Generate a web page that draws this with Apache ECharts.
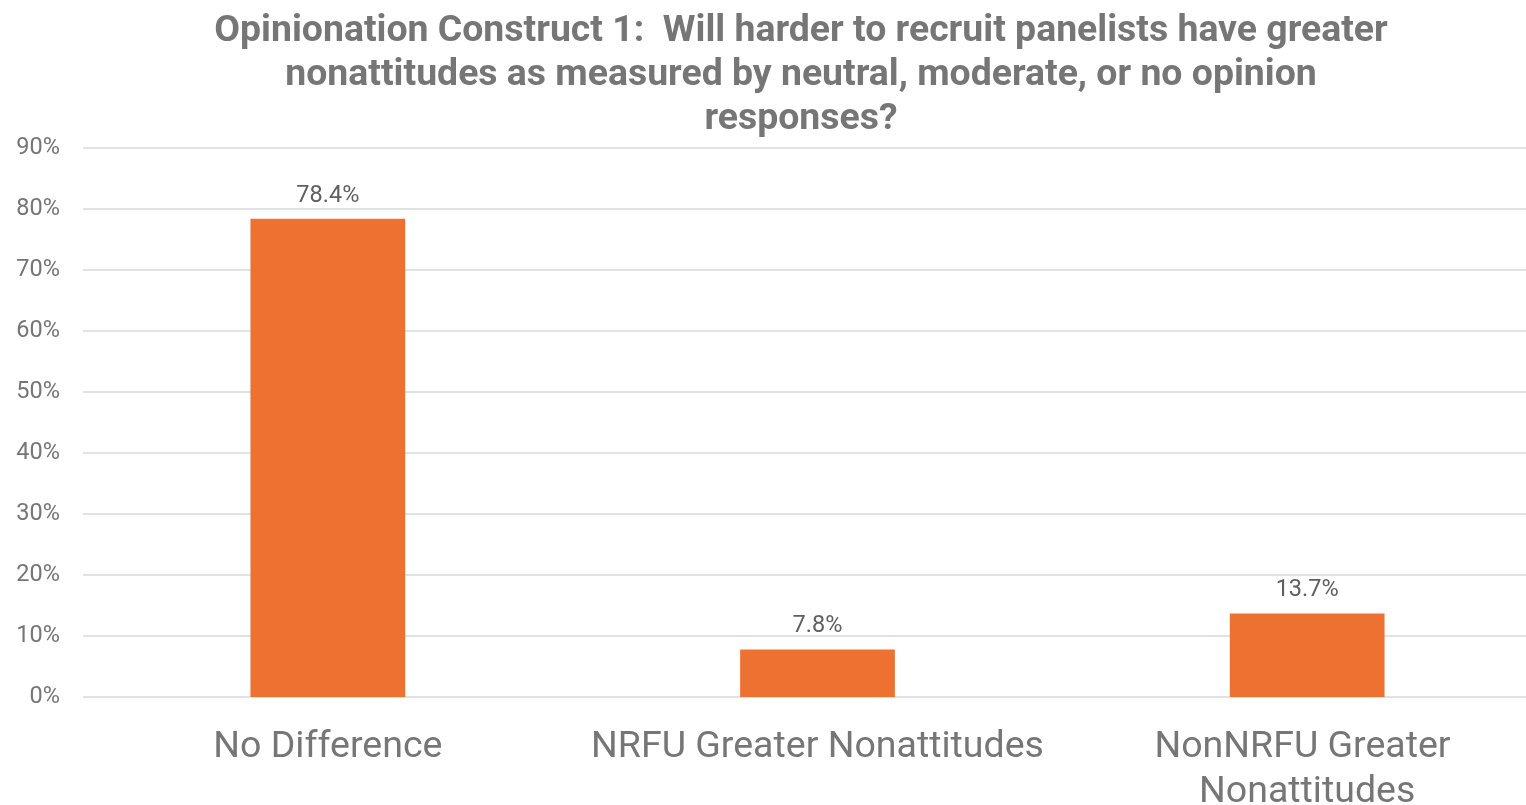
<!DOCTYPE html>
<html>
<head>
<meta charset="utf-8">
<script src="https://cdn.jsdelivr.net/npm/echarts@6/dist/echarts.min.js"></script>
<style>
html,body{margin:0;padding:0;background:#fff;}
#chart{width:1526px;height:805px;}
</style>
</head>
<body>
<div id="chart"></div>
<script>
const titleText = 'Opinionation Construct 1:  Will harder to recruit panelists have greater\nnonattitudes as measured by neutral, moderate, or no opinion\nresponses?';
const categories = ['No Difference', 'NRFU Greater Nonattitudes', 'NonNRFU Greater Nonattitudes'];
const values = [78.4, 7.8, 13.7];
const yTicks = [0, 10, 20, 30, 40, 50, 60, 70, 80, 90];

const chart = echarts.init(document.getElementById('chart'));
chart.setOption({
  animation: false,
  backgroundColor: '#ffffff',
  title: {
    text: titleText,
    left: 796,
    textAlign: 'center',
    top: 5,
    textStyle: {
      fontFamily: 'Roboto',
      fontWeight: 'bold',
      fontSize: 37.4,
      lineHeight: 44,
      color: '#767676'
    }
  },
  grid: { left: 83, width: 1469, top: 148, height: 549, containLabel: false, outerBoundsMode: 'none' },
  xAxis: {
    type: 'category',
    data: categories,
    axisLine: { show: false },
    axisTick: { show: false },
    axisLabel: {
      interval: 0,
      margin: 28,
      fontFamily: 'Roboto',
      fontSize: 37.5,
      lineHeight: 45,
      color: '#767676',
      width: 490,
      overflow: 'break'
    }
  },
  yAxis: {
    type: 'value',
    min: yTicks[0],
    max: yTicks[yTicks.length - 1],
    interval: 10,
    axisLine: { show: false },
    axisTick: { show: false },
    splitLine: { lineStyle: { color: '#d9d9d9', width: 1.5 } },
    axisLabel: {
      margin: 23,
      fontFamily: 'Roboto',
      fontSize: 23.5,
      color: '#767676',
      formatter: v => v + '%'
    }
  },
  series: [{
    type: 'bar',
    data: values,
    barWidth: '31.6%',
    itemStyle: { color: '#ED7130' },
    label: {
      show: true,
      position: 'top',
      distance: 11,
      fontFamily: 'Roboto',
      fontSize: 23.5,
      color: '#5f5f5f',
      formatter: p => p.value.toFixed(1) + '%'
    }
  }]
});
</script>
</body>
</html>
